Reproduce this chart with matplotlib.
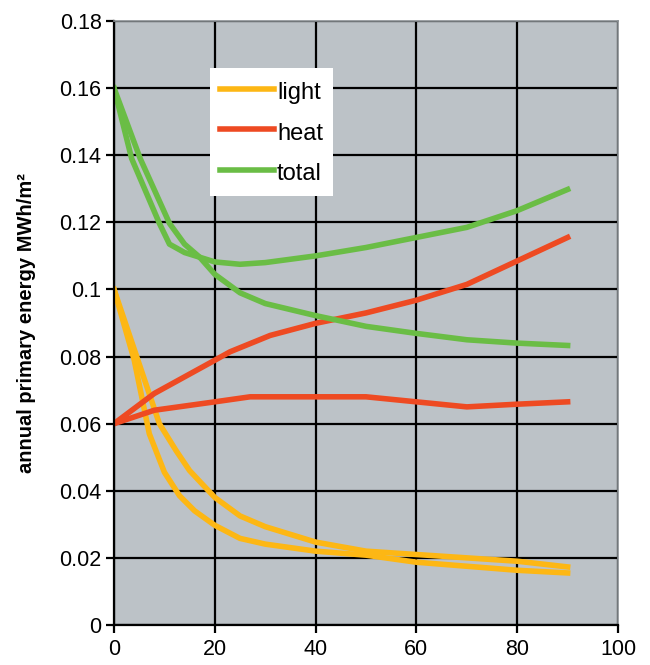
import numpy as np
import matplotlib
matplotlib.use("Agg")
import matplotlib.pyplot as plt

plt.rcParams['font.family'] = ['Liberation Sans', 'DejaVu Sans']

# light (two cases)
light_a_x = [0, 4.5, 9, 12.3, 15, 20, 25, 30, 40, 50, 60, 70, 80, 90]
light_a = [0.100, 0.080, 0.060, 0.052, 0.046, 0.038, 0.0325, 0.0293, 0.0247, 0.022, 0.021, 0.020, 0.019, 0.0173]
light_b_x = [0, 4, 7, 10, 13, 16, 20, 25, 30, 40, 50, 60, 70, 80, 90]
light_b = [0.100, 0.079, 0.057, 0.0455, 0.0385, 0.034, 0.0297, 0.0258, 0.0241, 0.022, 0.0208, 0.0187, 0.0175, 0.0163, 0.0155]

# heat
heat_a_x = [0, 8, 20, 23, 31, 40, 50, 60, 70, 80, 90]
heat_a = [0.060, 0.069, 0.0789, 0.0814, 0.0863, 0.0899, 0.093, 0.0968, 0.1015, 0.1085, 0.1155]
heat_b_x = [0, 8, 20, 27, 40, 50, 60, 70, 80, 90]
heat_b = [0.060, 0.064, 0.0665, 0.068, 0.068, 0.068, 0.0665, 0.065, 0.0658, 0.0665]

# total
total_a_x = [0, 3.5, 9, 11, 14, 17, 20, 25, 30, 40, 50, 60, 70, 80, 90]
total_a = [0.160, 0.139, 0.1197, 0.1135, 0.111, 0.1096, 0.1082, 0.1075, 0.108, 0.110, 0.1125, 0.1155, 0.1185, 0.1235, 0.1298]
total_b_x = [0, 5.2, 11, 14, 17, 20, 25, 30, 40, 50, 60, 70, 80, 90]
total_b = [0.160, 0.139, 0.1197, 0.1135, 0.1096, 0.1045, 0.099, 0.0958, 0.0922, 0.089, 0.0869, 0.085, 0.084, 0.0833]

x_ticks = [0, 20, 40, 60, 80, 100]
y_ticks = [0, 0.02, 0.04, 0.06, 0.08, 0.1, 0.12, 0.14, 0.16, 0.18]
y_labels = ['0', '0.02', '0.04', '0.06', '0.08', '0.1', '0.12', '0.14', '0.16', '0.18']

c_light = '#fdb714'
c_heat = '#ee4a22'
c_total = '#6abd45'

fig = plt.figure(figsize=(6.5, 6.65), dpi=100)
ax = fig.add_axes([0.1754, 0.0602, 0.7754, 0.9082])
ax.set_facecolor('#bcc2c7')

lw = 4
ax.plot(light_a_x, light_a, color=c_light, lw=lw, label='light')
ax.plot(light_b_x, light_b, color=c_light, lw=lw)
ax.plot(heat_a_x, heat_a, color=c_heat, lw=lw, label='heat')
ax.plot(heat_b_x, heat_b, color=c_heat, lw=lw)
ax.plot(total_a_x, total_a, color=c_total, lw=lw, label='total')
ax.plot(total_b_x, total_b, color=c_total, lw=lw)

ax.set_xlim(0, 100)
ax.set_ylim(0, 0.18)
ax.set_xticks(x_ticks)
ax.set_yticks(y_ticks)
ax.set_yticklabels(y_labels)
ax.grid(True, color='black', lw=1.6)
ax.set_axisbelow(True)

for s in ['left', 'bottom']:
    ax.spines[s].set_color('black')
    ax.spines[s].set_linewidth(1.6)
for s in ['top', 'right']:
    ax.spines[s].set_color('#8a8f93')
    ax.spines[s].set_linewidth(1.2)

ax.tick_params(axis='both', direction='out', length=6, width=1.6, labelsize=15.5, colors='black')
ax.tick_params(axis='x', pad=4)
ax.tick_params(axis='y', pad=3)

ax.set_ylabel('annual primary energy MWh/m²', fontsize=14.5, fontweight='bold')
ax.yaxis.set_label_coords(-0.155, 0.5)

leg = ax.legend(loc='upper left', bbox_to_anchor=(0.19, 0.922), frameon=True, fancybox=False,
                edgecolor='white', facecolor='white', framealpha=1, fontsize=17,
                handlelength=2.3, handleheight=1.3, handletextpad=0.12, labelspacing=0.63,
                borderpad=0.43, borderaxespad=0)
leg.get_frame().set_linewidth(0)
for line in leg.get_lines():
    line.set_linewidth(4)

fig.savefig('out.png', dpi=100)
